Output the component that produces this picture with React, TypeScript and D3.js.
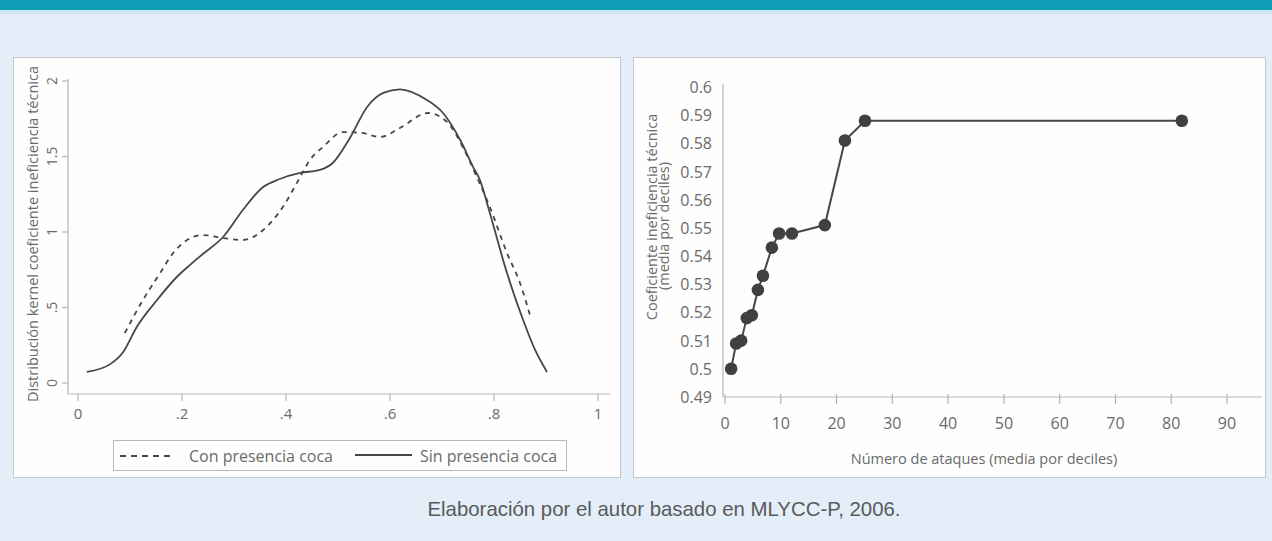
import React from "react";
import * as d3 from "d3";

// Left panel: kernel densities
const conX = [0.090,0.125,0.158,0.183,0.202,0.240,0.279,0.317,0.356,0.394,0.421,0.446,0.471,0.510,0.546,0.581,0.619,0.673,0.710,0.740,0.767,0.792,0.825,0.850,0.870];
const conY = [0.331,0.550,0.728,0.861,0.927,0.980,0.960,0.947,1.013,1.166,1.325,1.477,1.563,1.662,1.656,1.629,1.689,1.788,1.728,1.563,1.364,1.166,0.861,0.662,0.440];
const sinX = [0.017,0.062,0.087,0.113,0.152,0.190,0.215,0.240,0.279,0.317,0.356,0.388,0.427,0.465,0.490,0.523,0.556,0.587,0.619,0.671,0.702,0.735,0.760,0.773,0.792,0.825,0.856,0.879,0.902];
const sinY = [0.073,0.125,0.205,0.371,0.550,0.702,0.781,0.854,0.967,1.146,1.298,1.351,1.391,1.411,1.457,1.623,1.828,1.921,1.945,1.874,1.788,1.609,1.430,1.344,1.126,0.728,0.417,0.219,0.073];
const leftXTicks = [0, 0.2, 0.4, 0.6, 0.8, 1];
const leftXLabels = ["0", ".2", ".4", ".6", ".8", "1"];
const leftYTicks = [0, 0.5, 1, 1.5, 2];
const leftYLabels = ["0", ".5", "1", "1.5", "2"];
const legendLabels = ["Con presencia coca", "Sin presencia coca"];

// Right panel: attacks vs inefficiency
const attacks = [1.1, 2.0, 2.9, 3.9, 4.8, 5.9, 6.8, 8.4, 9.7, 12.0, 17.9, 21.5, 25.1, 81.9];
const ineff = [0.500, 0.509, 0.510, 0.518, 0.519, 0.528, 0.533, 0.543, 0.548, 0.548, 0.551, 0.581, 0.588, 0.588];
const rightXTicks = [0, 10, 20, 30, 40, 50, 60, 70, 80, 90];
const rightYTicks = [0.49, 0.5, 0.51, 0.52, 0.53, 0.54, 0.55, 0.56, 0.57, 0.58, 0.59, 0.6];

const caption = "Elaboración por el autor basado en MLYCC-P, 2006.";

const FONT = "'Open Sans', 'DejaVu Sans', sans-serif";
const TXT = "#6a6a6a";
const AX = "#b5b5b5";
const LINE = "#474747";

export default function App() {
  // left scales
  const lx = d3.scaleLinear().domain([0, 1]).range([78, 598]);
  const ly = d3.scaleLinear().domain([0, 2]).range([383, 81]);
  const lineGen = (xs: number[], ys: number[]) =>
    d3
      .line<number>()
      .x((_, i) => lx(xs[i]))
      .y((_, i) => ly(ys[i]))
      .curve(d3.curveMonotoneX)(xs) as string;

  // right scales
  const rx = d3.scaleLinear().domain([0, 90]).range([725, 1227]);
  const ry = d3.scaleLinear().domain([0.49, 0.6]).range([397, 87]);
  const rLine = d3
    .line<number>()
    .x((_, i) => rx(attacks[i]))
    .y((_, i) => ry(ineff[i]))(attacks) as string;

  return (
    <div style={{ position: "absolute", left: 0, top: 0 }}>
      <svg width={1272} height={541} style={{ display: "block" }}>
        <rect x={0} y={0} width={1272} height={541} fill="#e3eef9" />
        <rect x={0} y={0} width={1272} height={10} fill="#0e9fb7" />
        <rect x={0} y={10} width={1272} height={4} fill="#cfe6f3" />

        {/* Left panel */}
        <rect x={13.5} y={57.5} width={607} height={420} fill="#fefefe" stroke="#c4c8cc" strokeWidth={1} />
        <line x1={68} x2={68} y1={79} y2={394} stroke={AX} strokeWidth={1.2} />
        <line x1={68} x2={610} y1={394} y2={394} stroke={AX} strokeWidth={1.2} />
        {leftYTicks.map((t, i) => (
          <g key={"ly" + i}>
            <line x1={62} x2={68} y1={ly(t)} y2={ly(t)} stroke={AX} strokeWidth={1.2} />
            <text
              transform={`translate(57,${ly(t)}) rotate(-90)`}
              textAnchor="middle"
              fontFamily={FONT}
              fontSize={14}
              fill={TXT}
            >
              {leftYLabels[i]}
            </text>
          </g>
        ))}
        {leftXTicks.map((t, i) => (
          <g key={"lx" + i}>
            <line x1={lx(t)} x2={lx(t)} y1={394} y2={401} stroke={AX} strokeWidth={1.2} />
            <text x={lx(t)} y={419} textAnchor="middle" fontFamily={FONT} fontSize={15} fill={TXT}>
              {leftXLabels[i]}
            </text>
          </g>
        ))}
        <text
          transform="translate(38,234) rotate(-90)"
          textAnchor="middle"
          fontFamily={FONT}
          fontSize={14.5}
          fill={TXT}
        >
          Distribución kernel coeficiente ineficiencia técnica
        </text>
        <path d={lineGen(conX, conY)} fill="none" stroke={LINE} strokeWidth={1.8} strokeDasharray="5,5" />
        <path d={lineGen(sinX, sinY)} fill="none" stroke={LINE} strokeWidth={1.8} />
        {/* legend */}
        <rect x={113.5} y={440.5} width={453} height={30} fill="#fefefe" stroke="#b8b8b8" strokeWidth={1} />
        <line x1={120} x2={174} y1={456} y2={456} stroke={LINE} strokeWidth={2} strokeDasharray="6,5" />
        <text x={189} y={462} fontFamily={FONT} fontSize={16} fill={TXT}>
          {legendLabels[0]}
        </text>
        <line x1={355} x2={412} y1={455} y2={455} stroke={LINE} strokeWidth={2} />
        <text x={420} y={462} fontFamily={FONT} fontSize={16} fill={TXT}>
          {legendLabels[1]}
        </text>

        {/* Right panel */}
        <rect x={633.5} y={57.5} width={632} height={420} fill="#fefefe" stroke="#c4c8cc" strokeWidth={1} />
        <line x1={723} x2={723} y1={84} y2={397} stroke={AX} strokeWidth={1.2} />
        <line x1={723} x2={1262} y1={397} y2={397} stroke={AX} strokeWidth={1.2} />
        {rightYTicks.map((t, i) => (
          <text
            key={"ry" + i}
            x={712}
            y={ry(t) + 6}
            textAnchor="end"
            fontFamily={FONT}
            fontSize={16}
            fill={TXT}
          >
            {d3.format("")(+t.toFixed(2))}
          </text>
        ))}
        {rightXTicks.map((t, i) => (
          <g key={"rx" + i}>
            <line x1={rx(t)} x2={rx(t)} y1={394} y2={404} stroke={AX} strokeWidth={1.2} />
            <text x={rx(t)} y={429} textAnchor="middle" fontFamily={FONT} fontSize={16} fill={TXT}>
              {t}
            </text>
          </g>
        ))}
        <text x={984} y={464} textAnchor="middle" fontFamily={FONT} fontSize={14.5} fill={TXT}>
          Número de ataques (media por deciles)
        </text>
        <text
          transform="translate(657,217) rotate(-90)"
          textAnchor="middle"
          fontFamily={FONT}
          fontSize={14.5}
          fill={TXT}
        >
          Coeficiente ineficiencia técnica
        </text>
        <text
          transform="translate(669,226) rotate(-90)"
          textAnchor="middle"
          fontFamily={FONT}
          fontSize={14.5}
          fill={TXT}
        >
          (media por deciles)
        </text>
        <path d={rLine} fill="none" stroke={LINE} strokeWidth={2} />
        {attacks.map((a, i) => (
          <circle key={"pt" + i} cx={rx(a)} cy={ry(ineff[i])} r={6.3} fill="#404040" />
        ))}

        {/* Caption */}
        <text
          x={664}
          y={516}
          textAnchor="middle"
          fontFamily="'Liberation Sans', Arial, sans-serif"
          fontSize={20.4}
          fill="#5a5a5a"
        >
          {caption}
        </text>
      </svg>
    </div>
  );
}
